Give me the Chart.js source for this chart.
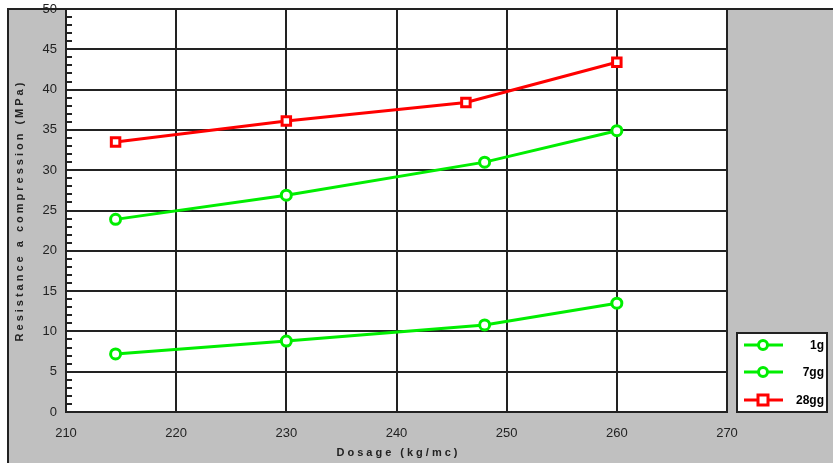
<!DOCTYPE html>
<html><head><meta charset="utf-8">
<script src="https://cdn.jsdelivr.net/npm/chart.js@4"></script>
<style>html,body{margin:0;padding:0;background:#fff;}#wrap{width:833px;height:463px;}</style>
</head><body><div id="wrap"><canvas id="c" width="833" height="463"></canvas></div>
<script>
const seriesLabels = ["1g", "7gg", "28gg"];
const x1g = [214.5, 230, 248, 260];
const y1g = [7.2, 8.8, 10.8, 13.5];
const x7g = [214.5, 230, 248, 260];
const y7g = [23.9, 26.9, 31.0, 34.9];
const x28g = [214.5, 230, 246.3, 260];
const y28g = [33.5, 36.1, 38.4, 43.4];
const xTitle = "Dosage (kg/mc)";
const yTitle = "Resistance a compression (MPa)";

const pts = (xs, ys) => xs.map((x, i) => ({x: x, y: ys[i]}));

const framePlugin = {
  id: 'frame',
  beforeDraw(chart) {
    const ctx = chart.ctx, a = chart.chartArea;
    ctx.save();
    ctx.fillStyle = '#fff';
    ctx.fillRect(0, 0, chart.width, chart.height);
    ctx.fillStyle = '#c0c0c0';
    ctx.fillRect(8, 9, chart.width - 8, chart.height - 9);
    ctx.strokeStyle = '#222';
    ctx.lineWidth = 2;
    ctx.strokeRect(8, 9, chart.width, chart.height);
    ctx.fillStyle = '#fff';
    ctx.fillRect(a.left, a.top, a.right - a.left, a.bottom - a.top);
    ctx.restore();
  },
  afterDraw(chart) {
    const ctx = chart.ctx, a = chart.chartArea;
    const ys = chart.scales.y;
    ctx.save();
    ctx.strokeStyle = '#222';
    ctx.lineWidth = 2;
    for (let v = 0; v <= 50; v++) {
      if (v % 5 === 0) continue;
      const p = Math.round(ys.getPixelForValue(v));
      ctx.beginPath(); ctx.moveTo(a.left, p); ctx.lineTo(a.left + 6, p); ctx.stroke();
    }
    ctx.strokeRect(a.left, a.top, a.right - a.left, a.bottom - a.top);
    ctx.fillStyle = '#222';
    ctx.font = 'bold 11px "Liberation Sans", Arial, sans-serif';
    ctx.letterSpacing = '3px';
    ctx.textAlign = 'center';
    ctx.textBaseline = 'middle';
    ctx.fillText(xTitle, (a.left + a.right) / 2 + 2, 453);
    ctx.translate(20, (a.top + a.bottom) / 2);
    ctx.rotate(-Math.PI / 2);
    ctx.fillText(yTitle, 0, 0);
    ctx.restore();
    ctx.save();
    const lx = 737, ly = 333, lw = 90, lh = 79;
    ctx.fillStyle = '#fff';
    ctx.fillRect(lx, ly, lw, lh);
    ctx.strokeStyle = '#222';
    ctx.lineWidth = 2;
    ctx.strokeRect(lx, ly, lw, lh);
    const rows = [345, 372, 400];
    chart.data.datasets.forEach((ds, i) => {
      const y = rows[i];
      ctx.strokeStyle = ds.borderColor;
      ctx.lineWidth = 3;
      ctx.beginPath(); ctx.moveTo(744, y); ctx.lineTo(783, y); ctx.stroke();
      ctx.fillStyle = '#fff';
      if (ds.pointStyle === 'rect') {
        ctx.fillRect(758, y - 5, 10, 10);
        ctx.strokeRect(758, y - 5, 10, 10);
      } else {
        ctx.beginPath(); ctx.arc(763, y, 4.5, 0, Math.PI * 2); ctx.fill(); ctx.stroke();
      }
      ctx.fillStyle = '#000';
      ctx.font = 'bold 12px "Liberation Sans", Arial, sans-serif';
      ctx.textAlign = 'right';
      ctx.textBaseline = 'middle';
      ctx.fillText(ds.label, 824, y + 1);
    });
    ctx.restore();
  }
};

new Chart(document.getElementById('c'), {
  type: 'scatter',
  data: {
    datasets: [
      {label: seriesLabels[0], data: pts(x1g, y1g), showLine: true, borderColor: '#00ee00', backgroundColor: '#fff', borderWidth: 3, pointStyle: 'circle', pointRadius: 5, pointBorderWidth: 3, pointBackgroundColor: '#fff'},
      {label: seriesLabels[1], data: pts(x7g, y7g), showLine: true, borderColor: '#00ee00', backgroundColor: '#fff', borderWidth: 3, pointStyle: 'circle', pointRadius: 5, pointBorderWidth: 3, pointBackgroundColor: '#fff'},
      {label: seriesLabels[2], data: pts(x28g, y28g), showLine: true, borderColor: '#ff0000', backgroundColor: '#fff', borderWidth: 3, pointStyle: 'rect', pointRadius: 6, pointBorderWidth: 3, pointBackgroundColor: '#fff'}
    ]
  },
  options: {
    responsive: false,
    animation: false,
    layout: {padding: {left: 8, top: 9, right: 106, bottom: 0}},
    plugins: {legend: {display: false}, tooltip: {enabled: false}},
    scales: {
      x: {
        type: 'linear', min: 210, max: 270,
        ticks: {stepSize: 10, color: '#222', padding: 14, font: {family: '"Liberation Sans Narrow", "Liberation Sans", Arial, sans-serif', size: 13}},
        grid: {color: '#222', lineWidth: 2, drawTicks: false},
        border: {display: false},
        afterFit(s) { s.height = 51; }
      },
      y: {
        min: 0, max: 50,
        ticks: {stepSize: 5, color: '#222', padding: 9, font: {family: '"Liberation Sans Narrow", "Liberation Sans", Arial, sans-serif', size: 13}},
        grid: {color: '#222', lineWidth: 2, drawTicks: false},
        border: {display: false},
        afterFit(s) { s.width = 58; s.paddingTop = 0; s.paddingBottom = 0; }
      }
    }
  },
  plugins: [framePlugin]
});
</script></body></html>
